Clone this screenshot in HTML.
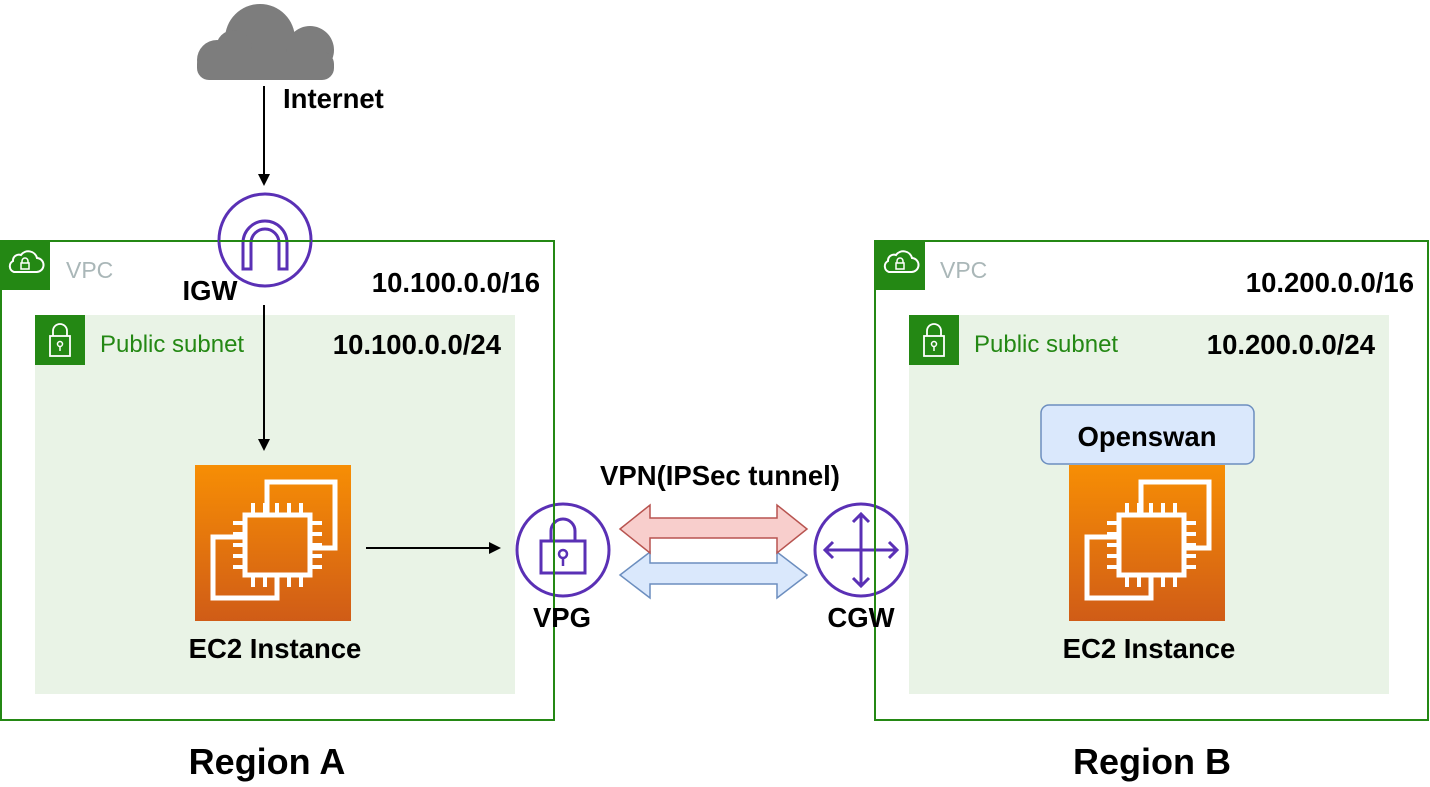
<!DOCTYPE html>
<html><head><meta charset="utf-8"><style>
body{margin:0;background:#fff;}
svg text{font-family:"Liberation Sans",Arial,sans-serif;}
</style></head><body>
<svg width="1430" height="782" viewBox="0 0 1430 782" xmlns="http://www.w3.org/2000/svg">
<defs>
<linearGradient id="og" x1="0" y1="0" x2="0" y2="1"><stop offset="0" stop-color="#F78E04"/><stop offset="1" stop-color="#D05C17"/></linearGradient>
<g id="ec2">
<rect width="156" height="156" fill="url(#og)"/>
<g fill="none" stroke="#fff" stroke-width="5">
<polyline points="72,48 72,17 140,17 140,83 117,83"/>
<polyline points="48,72 18,72 18,133 82,133 82,112"/>
<rect x="50" y="50" width="65" height="60"/>
</g>
<g stroke="#fff" stroke-width="4">
<line x1="58" y1="38" x2="58" y2="48"/><line x1="70" y1="38" x2="70" y2="48"/><line x1="82" y1="38" x2="82" y2="48"/><line x1="94" y1="38" x2="94" y2="48"/><line x1="106" y1="38" x2="106" y2="48"/>
<line x1="58" y1="112" x2="58" y2="122"/><line x1="70" y1="112" x2="70" y2="122"/><line x1="82" y1="112" x2="82" y2="122"/><line x1="94" y1="112" x2="94" y2="122"/><line x1="106" y1="112" x2="106" y2="122"/>
<line x1="38" y1="58" x2="48" y2="58"/><line x1="38" y1="69" x2="48" y2="69"/><line x1="38" y1="80" x2="48" y2="80"/><line x1="38" y1="91" x2="48" y2="91"/><line x1="38" y1="102" x2="48" y2="102"/>
<line x1="117" y1="58" x2="127" y2="58"/><line x1="117" y1="69" x2="127" y2="69"/><line x1="117" y1="80" x2="127" y2="80"/><line x1="117" y1="91" x2="127" y2="91"/><line x1="117" y1="102" x2="127" y2="102"/>
</g>
</g>
<g id="vpctag">
<rect width="50" height="50" fill="#248814"/>
<path d="M14,32 h22 a7,7 0 0 0 1,-14 a9,9 0 0 0 -16,-3 a6,6 0 0 0 -8,6 a6,6 0 0 0 1,11z" fill="none" stroke="#fff" stroke-width="2"/>
<rect x="21" y="23" width="8" height="6" fill="none" stroke="#fff" stroke-width="1.5"/>
<path d="M22,23 v-2 a3,3 0 0 1 6,0 v2" fill="none" stroke="#fff" stroke-width="1.5"/>
</g>
<g id="subtag">
<rect width="50" height="50" fill="#248814"/>
<rect x="15" y="21" width="20" height="20" fill="none" stroke="#fff" stroke-width="1.8"/>
<path d="M18,21 v-5 a7,7 0 0 1 14,0 v5" fill="none" stroke="#fff" stroke-width="1.8"/>
<circle cx="25" cy="29" r="2.5" fill="none" stroke="#fff" stroke-width="1.5"/><line x1="25" y1="31.5" x2="25" y2="36" stroke="#fff" stroke-width="1.5"/>
</g>
</defs>

<!-- Region A -->
<rect x="1" y="241" width="553" height="479" fill="#fff" stroke="#248814" stroke-width="2"/>
<use href="#vpctag" x="0" y="240"/>
<text x="66" y="278" font-size="23" fill="#AAB7B8">VPC</text>
<rect x="35" y="315" width="480" height="379" fill="#E9F3E6"/>
<use href="#subtag" x="35" y="315"/>
<text x="100" y="352" font-size="24" fill="#248814">Public subnet</text>
<text x="540" y="292" font-size="27.5" font-weight="bold" text-anchor="end">10.100.0.0/16</text>
<text x="501" y="354" font-size="27.5" font-weight="bold" text-anchor="end">10.100.0.0/24</text>
<use href="#ec2" x="195" y="465"/>
<text x="275" y="658" font-size="27.5" font-weight="bold" text-anchor="middle">EC2 Instance</text>

<!-- Region B -->
<rect x="875" y="241" width="553" height="479" fill="#fff" stroke="#248814" stroke-width="2"/>
<use href="#vpctag" x="875" y="240"/>
<text x="940" y="278" font-size="23" fill="#AAB7B8">VPC</text>
<rect x="909" y="315" width="480" height="379" fill="#E9F3E6"/>
<use href="#subtag" x="909" y="315"/>
<text x="974" y="352" font-size="24" fill="#248814">Public subnet</text>
<text x="1414" y="292" font-size="27.5" font-weight="bold" text-anchor="end">10.200.0.0/16</text>
<text x="1375" y="354" font-size="27.5" font-weight="bold" text-anchor="end">10.200.0.0/24</text>
<rect x="1041" y="405" width="213" height="59" rx="8" fill="#dae8fc" stroke="#6c8ebf" stroke-width="1.5"/>
<text x="1147" y="446" font-size="27.5" font-weight="bold" text-anchor="middle">Openswan</text>
<use href="#ec2" x="1069" y="465"/>
<text x="1149" y="658" font-size="27.5" font-weight="bold" text-anchor="middle">EC2 Instance</text>

<!-- cloud -->
<g fill="#7D7D7D">
<circle cx="217" cy="60" r="20"/>
<circle cx="260" cy="39" r="35"/>
<circle cx="310" cy="50" r="24"/>
<circle cx="234" cy="48" r="18"/>
<rect x="197" y="52" width="137" height="28" rx="12"/>
</g>
<text x="283" y="108" font-size="27.5" font-weight="bold">Internet</text>

<!-- arrows -->
<g stroke="#000" stroke-width="2">
<line x1="264" y1="86" x2="264" y2="176"/>
<line x1="264" y1="305" x2="264" y2="441"/>
<line x1="366" y1="548" x2="491" y2="548"/>
</g>
<polygon points="258,174 270,174 264,186" fill="#000"/>
<polygon points="258,439 270,439 264,451" fill="#000"/>
<polygon points="489,542 489,554 501,548" fill="#000"/>

<!-- IGW -->
<circle cx="265" cy="240" r="46" fill="#fff" stroke="#5A30B5" stroke-width="3"/>
<path d="M243,269 v-26 a22,22 0 0 1 44,0 v26 h-8 v-26 a14,14 0 0 0 -28,0 v26z" fill="none" stroke="#5A30B5" stroke-width="3"/>
<text x="210" y="300" font-size="27.5" font-weight="bold" text-anchor="middle">IGW</text>

<!-- VPN arrows -->
<polygon points="620,575 650,552 650,563 777,563 777,552 807,575 777,598 777,584 650,584 650,598" fill="#dae8fc" stroke="#6c8ebf" stroke-width="1.5"/>
<polygon points="620,529 650,505 650,518 777,518 777,505 807,529 777,553 777,538 650,538 650,553" fill="#f8cecc" stroke="#b85450" stroke-width="1.5"/>
<text x="720" y="485" font-size="27.5" font-weight="bold" text-anchor="middle">VPN(IPSec tunnel)</text>

<!-- VPG -->
<circle cx="563" cy="550" r="46" fill="#fff" stroke="#5A30B5" stroke-width="3"/>
<rect x="541" y="541" width="44" height="32" fill="none" stroke="#5A30B5" stroke-width="3"/>
<path d="M551,541 v-10 a12,12 0 0 1 24,0 v10" fill="none" stroke="#5A30B5" stroke-width="3"/>
<circle cx="563" cy="554" r="4" fill="none" stroke="#5A30B5" stroke-width="2.5"/><line x1="563" y1="558" x2="563" y2="566" stroke="#5A30B5" stroke-width="2.5"/>
<text x="562" y="627" font-size="27.5" font-weight="bold" text-anchor="middle">VPG</text>

<!-- CGW -->
<circle cx="861" cy="550" r="46" fill="#fff" stroke="#5A30B5" stroke-width="3"/>
<g stroke="#5A30B5" stroke-width="3" fill="none">
<line x1="861" y1="514" x2="861" y2="586"/><line x1="825" y1="550" x2="897" y2="550"/>
<polyline points="853,522 861,514 869,522"/><polyline points="853,578 861,586 869,578"/>
<polyline points="833,542 825,550 833,558"/><polyline points="889,542 897,550 889,558"/>
</g>
<text x="861" y="627" font-size="27.5" font-weight="bold" text-anchor="middle">CGW</text>
<line x1="554" y1="500" x2="554" y2="600" stroke="#248814" stroke-width="2"/>
<line x1="875" y1="500" x2="875" y2="600" stroke="#248814" stroke-width="2"/>
<line x1="219" y1="241" x2="311" y2="241" stroke="#248814" stroke-width="2"/>

<text x="267" y="774" font-size="36" font-weight="bold" text-anchor="middle">Region A</text>
<text x="1152" y="774" font-size="36" font-weight="bold" text-anchor="middle">Region B</text>
</svg>
</body></html>
